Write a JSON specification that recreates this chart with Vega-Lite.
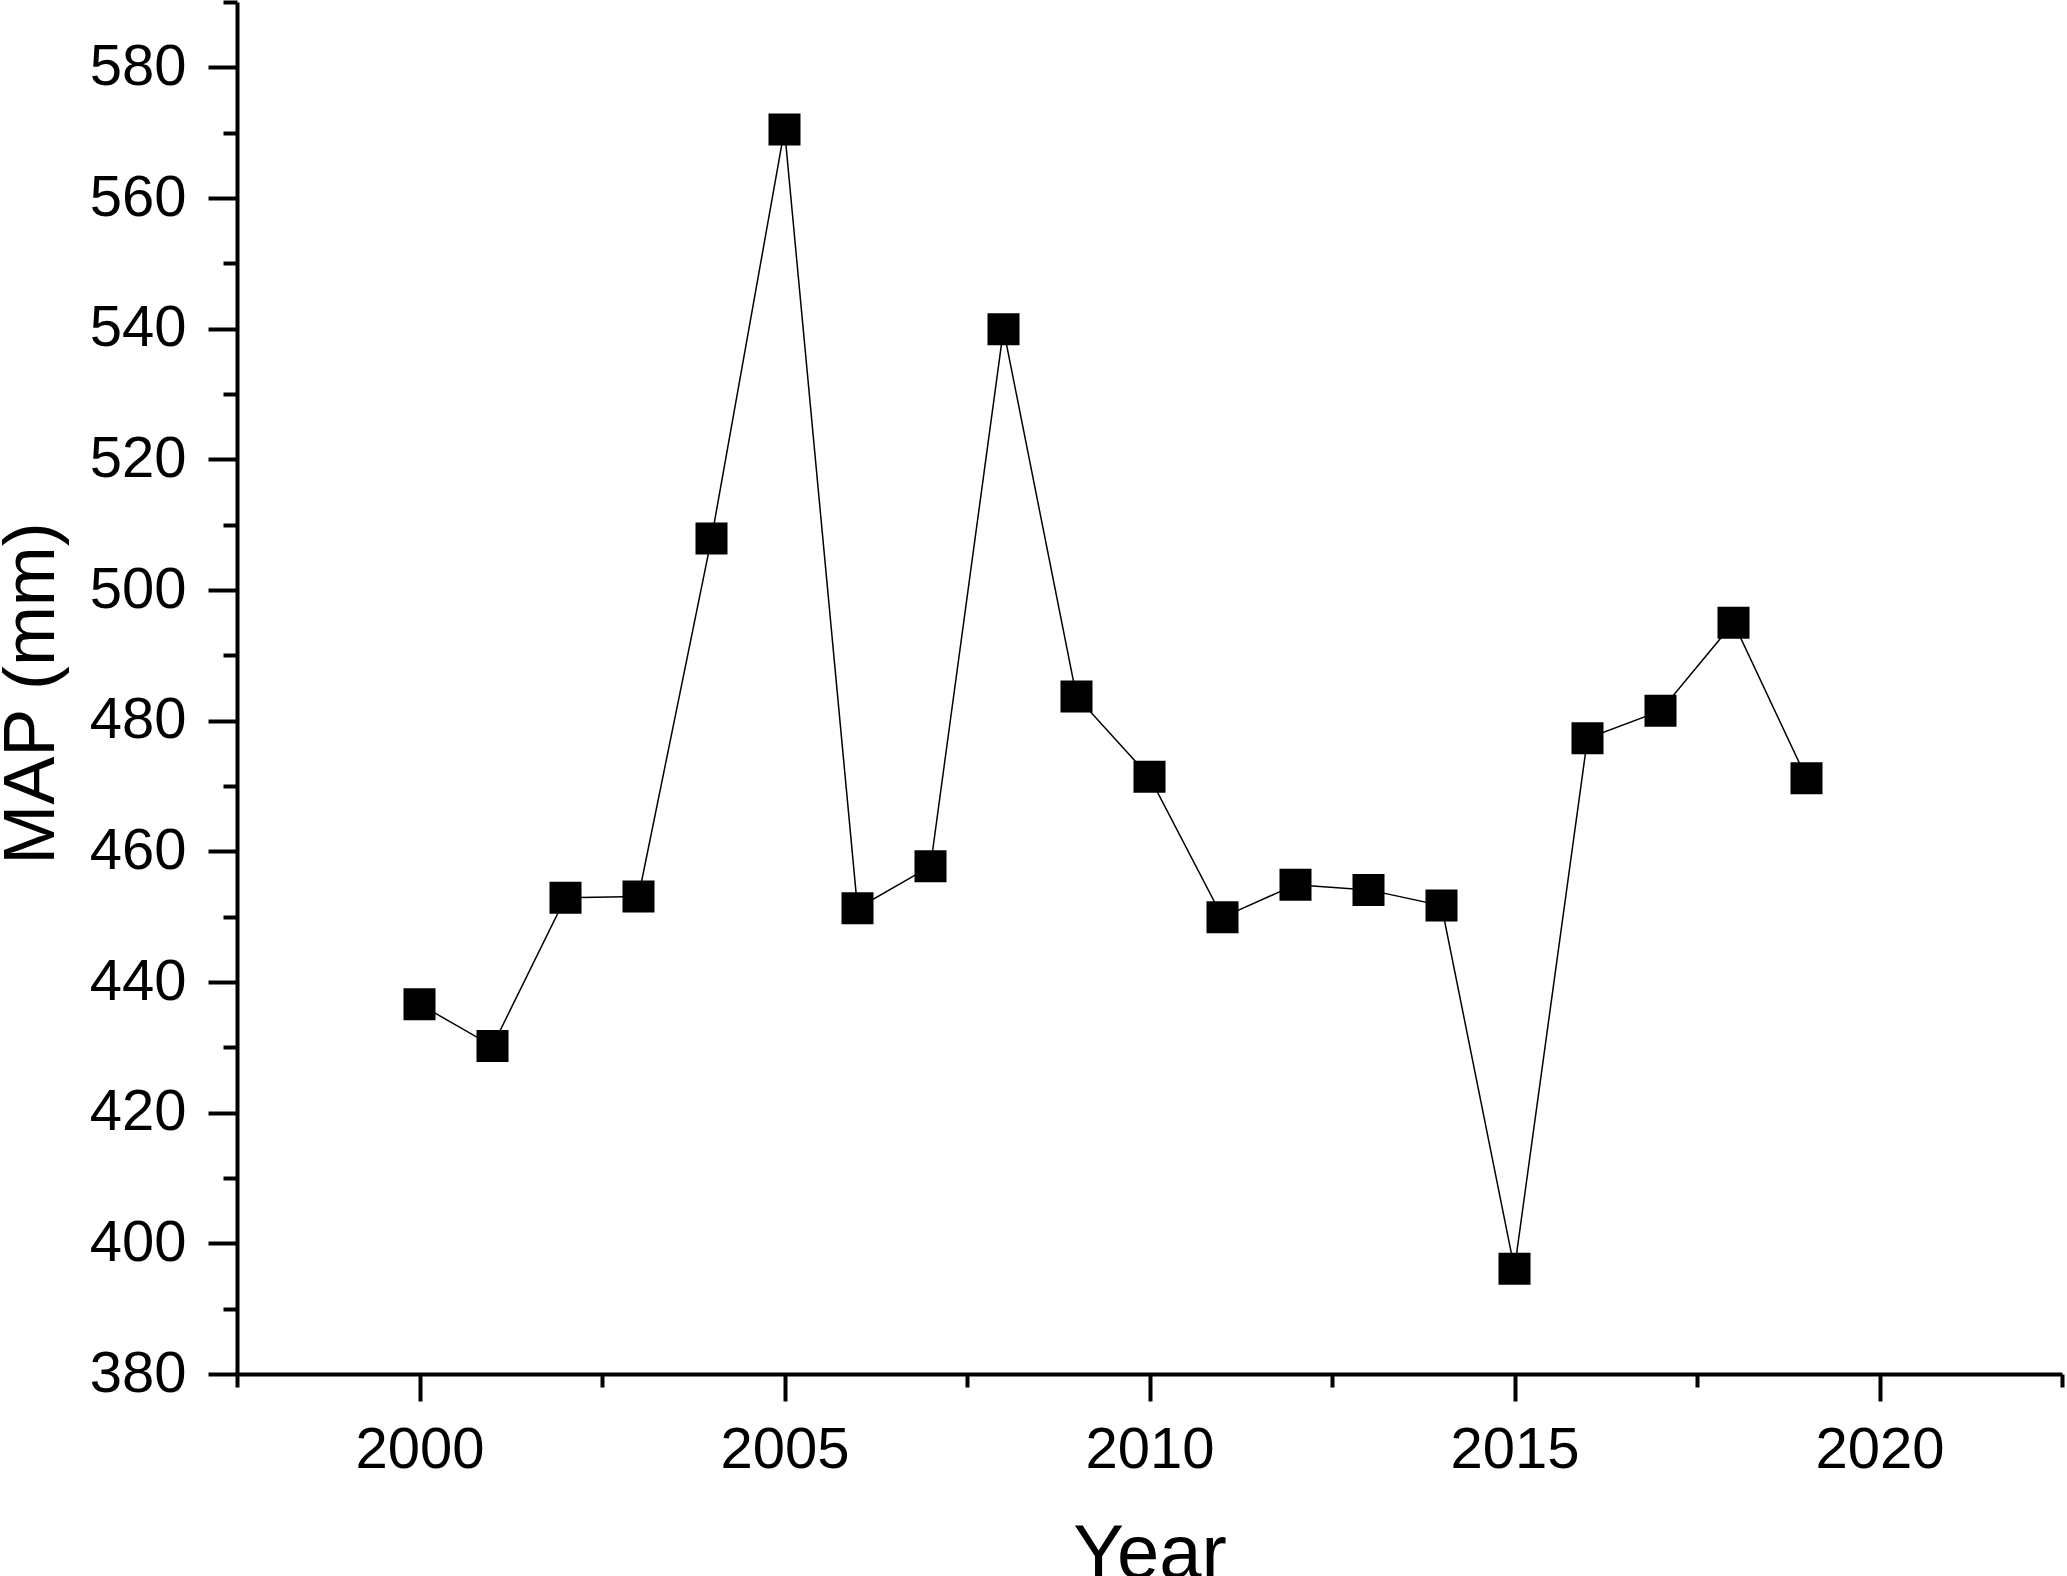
{
  "$schema": "https://vega.github.io/schema/vega-lite/v6.json",
  "width": 1825,
  "height": 1372,
  "autosize": {"type": "none"},
  "padding": {"left": 237, "top": 2, "right": 5, "bottom": 202},
  "background": "white",
  "config": {
    "view": {"stroke": null},
    "font": "Liberation Sans",
    "axis": {
      "domainColor": "black",
      "domainWidth": 4,
      "tickColor": "black",
      "tickWidth": 4,
      "labelColor": "black",
      "labelFont": "Liberation Sans",
      "labelFontSize": 58,
      "titleFont": "Liberation Sans",
      "titleColor": "black",
      "titleFontWeight": "normal",
      "grid": false,
      "labelOverlap": false,
      "labelBound": false,
      "labelFlush": false
    }
  },
  "data": {
    "values": [
      {"year": 2000, "map": 436.6},
      {"year": 2001, "map": 430.2},
      {"year": 2002, "map": 452.9},
      {"year": 2003, "map": 453.1},
      {"year": 2004, "map": 507.9},
      {"year": 2005, "map": 570.5},
      {"year": 2006, "map": 451.3},
      {"year": 2007, "map": 457.7},
      {"year": 2008, "map": 539.9},
      {"year": 2009, "map": 483.7},
      {"year": 2010, "map": 471.4},
      {"year": 2011, "map": 449.9},
      {"year": 2012, "map": 454.9},
      {"year": 2013, "map": 454.1},
      {"year": 2014, "map": 451.7},
      {"year": 2015, "map": 396.1},
      {"year": 2016, "map": 477.3},
      {"year": 2017, "map": 481.5},
      {"year": 2018, "map": 495.0},
      {"year": 2019, "map": 471.2}
    ]
  },
  "encoding": {
    "x": {
      "field": "year",
      "type": "quantitative",
      "scale": {"domain": [1997.5, 2022.5], "nice": false, "zero": false},
      "axis": {
        "title": "Year",
        "titleFontSize": 76,
        "titleY": 143,
        "values": [1997.5, 2000, 2002.5, 2005, 2007.5, 2010, 2012.5, 2015, 2017.5, 2020, 2022.5],
        "labelExpr": "datum.value % 5 === 0 ? format(datum.value, 'd') : ''",
        "tickSize": {"condition": {"test": "datum.value % 5 === 0", "value": 27}, "value": 13},
        "labelPadding": 20
      }
    },
    "y": {
      "field": "map",
      "type": "quantitative",
      "scale": {"domain": [380, 590], "nice": false, "zero": false},
      "axis": {
        "title": "MAP (mm)",
        "titleFontSize": 72,
        "titleX": -169,
        "titleY": 691,
        "values": [380, 390, 400, 410, 420, 430, 440, 450, 460, 470, 480, 490, 500, 510, 520, 530, 540, 550, 560, 570, 580, 590],
        "labelExpr": "datum.value % 20 === 0 ? format(datum.value, 'd') : ''",
        "tickSize": {"condition": {"test": "datum.value % 20 === 0", "value": 29}, "value": 14},
        "labelPadding": 22
      }
    }
  },
  "layer": [
    {"mark": {"type": "line", "color": "black", "strokeWidth": 1.5}},
    {"mark": {"type": "point", "shape": "square", "filled": true, "color": "black", "opacity": 1, "size": 1024}}
  ]
}
